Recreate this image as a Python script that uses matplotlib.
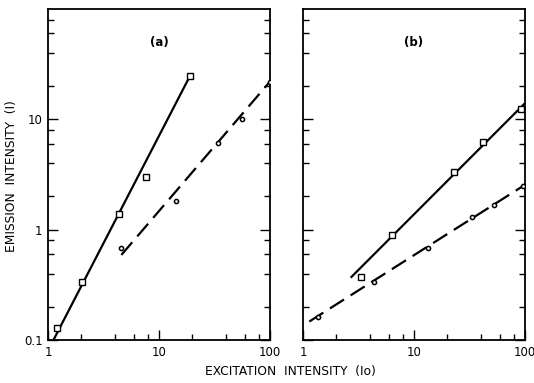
"""
Emission vs excitation intensity, two log-log panels (a) and (b)
"""

import numpy as np
import matplotlib
matplotlib.use('Agg')
import matplotlib.pyplot as plt
from matplotlib.ticker import FixedLocator, NullFormatter

# panel (a) data
a_sq_x = [1.21, 2.03, 4.33, 7.66, 19.0]
a_sq_y = [0.128, 0.338, 1.38, 3.03, 24.7]
a_ci_x = [4.58, 14.3, 34.0, 55.8, 100.0]
a_ci_y = [0.68, 1.83, 6.07, 10.1, 22.0]
a_solid_x = [1.12, 19.0]
a_solid_y = [0.1, 24.7]
a_dash_x = [4.58, 100.0]
a_dash_y = [0.59, 22.0]

# panel (b) data
b_sq_x = [3.31, 6.3, 23.0, 42.0, 92.0]
b_sq_y = [0.375, 0.895, 3.31, 6.2, 12.4]
b_ci_x = [1.37, 4.39, 13.5, 33.5, 52.9, 95.0]
b_ci_y = [0.163, 0.338, 0.68, 1.31, 1.67, 2.49]
b_solid_x = [2.69, 100.0]
b_solid_y = [0.367, 14.0]
b_dash_x = [1.14, 100.0]
b_dash_y = [0.147, 2.55]

x_ticks = [1, 10, 100]
x_ticklabels = ['1', '10', '100']
y_ticks = [0.1, 1, 10]
y_ticklabels = ['0.1', '1', '10']

fig = plt.figure(figsize=(5.34, 3.83), dpi=100)
fig.patch.set_facecolor('white')

ax_a = fig.add_axes([0.0899, 0.1123, 0.4157, 0.8642])
ax_b = fig.add_axes([0.5674, 0.1123, 0.4157, 0.8642])

minor = [m * 10.0 ** e for e in (-1, 0, 1) for m in (2, 4, 6, 8)]

panels = [
    (ax_a, '(a)', a_sq_x, a_sq_y, a_ci_x, a_ci_y, a_solid_x, a_solid_y, a_dash_x, a_dash_y),
    (ax_b, '(b)', b_sq_x, b_sq_y, b_ci_x, b_ci_y, b_solid_x, b_solid_y, b_dash_x, b_dash_y),
]

for ax, tag, sx, sy, cx, cy, lx, ly, dx, dy in panels:
    ax.set_xscale('log')
    ax.set_yscale('log')
    ax.set_xlim(1, 100)
    ax.set_ylim(0.1, 100)

    ax.plot(lx, ly, color='black', lw=1.6, solid_capstyle='butt', zorder=2)
    ax.plot(dx, dy, color='black', lw=1.6, dashes=(7.5, 3.5), zorder=2)
    ax.plot(sx, sy, ls='none', marker='s', ms=4.5, mfc='white', mec='black',
            mew=1.0, zorder=3)
    ax.plot(cx, cy, ls='none', marker='o', ms=3.0, mfc='white', mec='black',
            mew=1.1, zorder=3)

    ax.text(0.5, 0.9, tag, transform=ax.transAxes, ha='center', va='center',
            fontsize=8.5, fontweight='bold')

    ax.xaxis.set_major_locator(FixedLocator(x_ticks))
    ax.xaxis.set_minor_locator(FixedLocator([2, 4, 6, 8, 20, 40, 60, 80]))
    ax.xaxis.set_minor_formatter(NullFormatter())
    ax.set_xticklabels(x_ticklabels)
    ax.yaxis.set_major_locator(FixedLocator(y_ticks))
    ax.yaxis.set_minor_locator(FixedLocator(minor))
    ax.yaxis.set_minor_formatter(NullFormatter())

    ax.tick_params(which='both', direction='in', top=False, right=True,
                   width=1.0, labelsize=8.5, pad=4)
    ax.tick_params(which='major', length=7)
    ax.tick_params(which='minor', length=4)
    for sp in ax.spines.values():
        sp.set_linewidth(1.3)

ax_a.set_yticklabels(y_ticklabels)
ax_b.set_yticklabels([])

fig.text(0.022, 0.54, 'EMISSION  INTENSITY  (I)', rotation=90, ha='center',
         va='center', fontsize=8.8)
fig.text(0.543, 0.03, 'EXCITATION  INTENSITY  (Io)', ha='center', va='center',
         fontsize=8.8)

plt.savefig('out.png', dpi=100, facecolor='white')
plt.close()
